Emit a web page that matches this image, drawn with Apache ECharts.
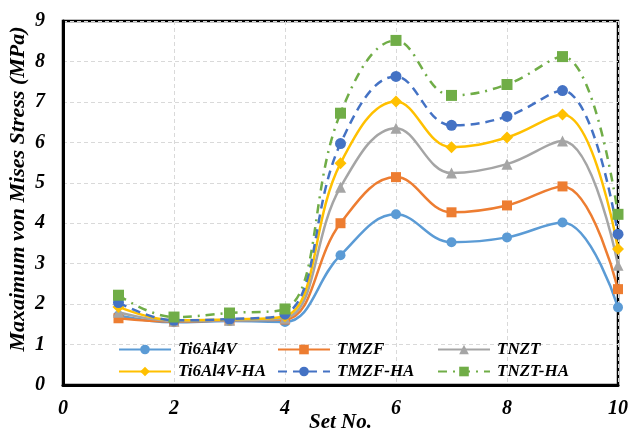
<!DOCTYPE html>
<html><head><meta charset="utf-8">
<script src="https://cdn.jsdelivr.net/npm/echarts@6/dist/echarts.min.js"></script>
<style>html,body{margin:0;padding:0;background:#fff}#c{width:629px;height:430px}</style>
</head><body><div id="c"></div>
<script>
const setNo = [1, 2, 3, 4, 5, 6, 7, 8, 9, 10];
const ti6Al4V   = [1.72, 1.55, 1.58, 1.56, 3.21, 4.22, 3.53, 3.65, 4.02, 1.92];
const tmzf      = [1.65, 1.57, 1.60, 1.62, 4.00, 5.14, 4.27, 4.44, 4.91, 2.37];
const tnzt      = [1.80, 1.58, 1.60, 1.65, 4.89, 6.35, 5.24, 5.46, 6.03, 2.96];
const ti6Al4VHA = [1.93, 1.60, 1.62, 1.70, 5.48, 7.01, 5.88, 6.12, 6.69, 3.36];
const tmzfHA    = [2.04, 1.60, 1.63, 1.75, 5.97, 7.63, 6.42, 6.64, 7.28, 3.73];
const tnztHA    = [2.22, 1.68, 1.78, 1.88, 6.72, 8.52, 7.16, 7.43, 8.12, 4.22];
const seriesNames = ['Ti6Al4V', 'TMZF', 'TNZT', 'Ti6Al4V-HA', 'TMZF-HA', 'TNZT-HA'];
const yTicks = [0, 1, 2, 3, 4, 5, 6, 7, 8, 9];
const xTicks = [0, 2, 4, 6, 8, 10];

const FONT = 'Liberation Serif';
const pairs = arr => setNo.map((x, i) => [x, arr[i]]);

const styles = [
  { data: ti6Al4V,   color: '#5B9BD5', symbol: 'circle',   size: 10, type: 'solid' },
  { data: tmzf,      color: '#ED7D31', symbol: 'rect',     size: 10, type: 'solid' },
  { data: tnzt,      color: '#A5A5A5', symbol: 'triangle', size: 11, type: 'solid' },
  { data: ti6Al4VHA, color: '#FFC000', symbol: 'diamond',  size: 12, type: 'solid' },
  { data: tmzfHA,    color: '#4472C4', symbol: 'circle',   size: 11, type: [9, 6] },
  { data: tnztHA,    color: '#70AD47', symbol: 'rect',     size: 11, type: [9, 6, 2, 6] }
];

const series = styles.map((s, i) => ({
  name: seriesNames[i],
  type: 'line',
  smooth: 0.4,
  data: pairs(s.data),
  symbol: s.symbol,
  symbolSize: s.size,
  itemStyle: { color: s.color },
  lineStyle: { color: s.color, width: 2.5, type: s.type },
  z: 2 + i
}));

const legendPos = [
  { left: 118, top: 341 }, { left: 277, top: 341 }, { left: 437, top: 341 },
  { left: 118, top: 363 }, { left: 277, top: 363 }, { left: 437, top: 363 }
];
const legends = seriesNames.map((n, i) => ({
  data: [n],
  left: legendPos[i].left,
  top: legendPos[i].top,
  itemWidth: 52,
  itemHeight: 12,
  itemGap: 0,
  padding: 0,
  textStyle: { fontFamily: FONT, fontWeight: 'bold', fontStyle: 'italic', fontSize: 17, color: '#000', padding: [0, 0, 6, 2] }
}));

const chart = echarts.init(document.getElementById('c'));
chart.setOption({
  animation: false,
  backgroundColor: '#fff',
  legend: legends,
  grid: { left: 63, right: 11, top: 21, bottom: 45, containLabel: false, outerBoundsMode: 'none', show: true, borderColor: '#000', borderWidth: 2.5, backgroundColor: 'transparent' },
  xAxis: {
    type: 'value', min: xTicks[0], max: xTicks[xTicks.length - 1], interval: 2,
    name: 'Set No.', nameLocation: 'middle', nameGap: 27, nameMoveOverlap: false,
    nameTextStyle: { fontFamily: FONT, fontWeight: 'bold', fontStyle: 'italic', fontSize: 21, color: '#000' },
    axisLine: { show: true, lineStyle: { color: '#000', width: 3 } },
    axisTick: { show: false },
    axisLabel: { fontFamily: FONT, fontWeight: 'bold', fontStyle: 'italic', fontSize: 20, color: '#000', margin: 14 },
    splitLine: { show: true, lineStyle: { color: '#D9D9D9', type: [4, 3], width: 1 } }
  },
  yAxis: {
    type: 'value', min: yTicks[0], max: yTicks[yTicks.length - 1], interval: 1,
    name: 'Maxaimum von Mises Stress (MPa)', nameLocation: 'middle', nameGap: 34, nameMoveOverlap: false,
    nameTextStyle: { fontFamily: FONT, fontWeight: 'bold', fontStyle: 'italic', fontSize: 22, color: '#000', padding: [0, 0, 0, 28] },
    axisLine: { show: true, lineStyle: { color: '#000', width: 3 } },
    axisTick: { show: false },
    axisLabel: { fontFamily: FONT, fontWeight: 'bold', fontStyle: 'italic', fontSize: 20, color: '#000', margin: 18 },
    splitLine: { show: true, lineStyle: { color: '#D9D9D9', type: [4, 3], width: 1 } }
  },
  series: series
});
</script></body></html>
